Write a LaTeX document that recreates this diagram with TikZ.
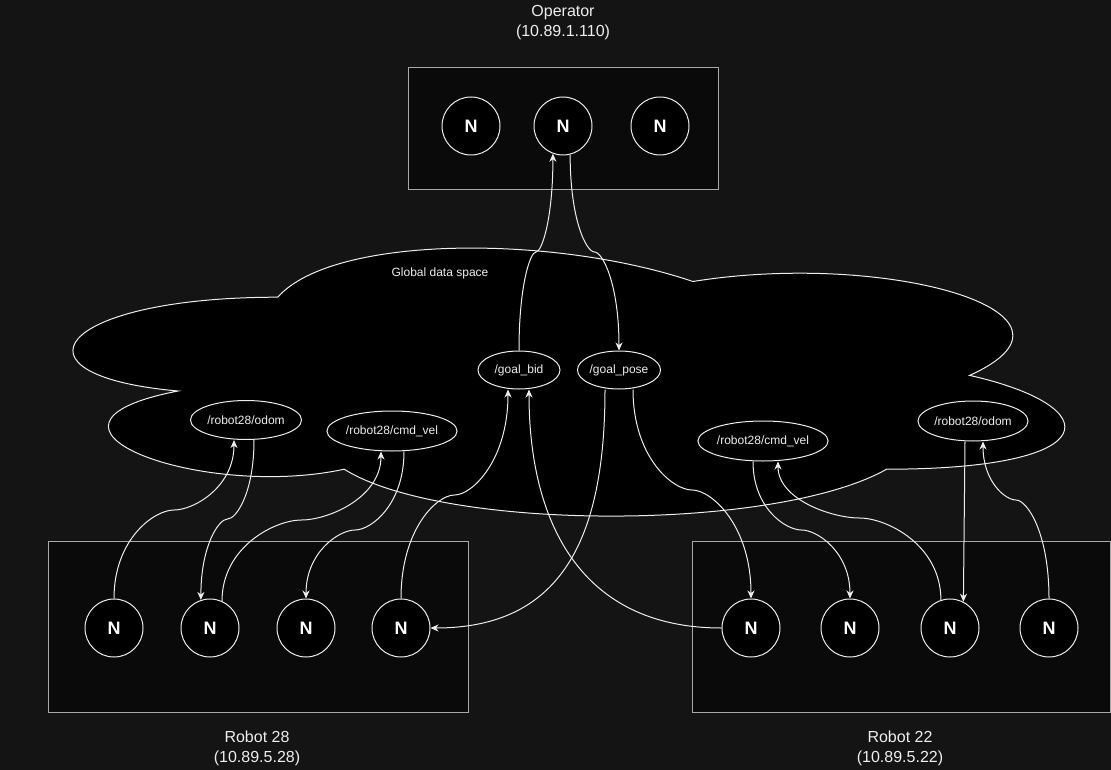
\documentclass[tikz,border=0pt]{standalone}
\usepackage{fontspec}
\setmainfont{Liberation Sans}
\usetikzlibrary{shapes.geometric,arrows.meta}

\definecolor{pagebg}{HTML}{141414}
\definecolor{boxbg}{HTML}{0A0A0A}
\definecolor{boxline}{HTML}{A8A8A8}
\definecolor{wirecol}{HTML}{EEEEEE}

\begin{document}
\begin{tikzpicture}[x=1pt,y=-1pt,
		host/.style={draw=boxline,fill=boxbg,line width=1pt},
		proc/.style={circle,draw=wirecol,fill=black,line width=1pt,minimum size=58pt,inner sep=0pt,text=white,font=\fontsize{18}{18}\selectfont\bfseries},
		topic/.style={ellipse,draw=wirecol,fill=black,line width=1pt,inner sep=0pt,text=wirecol,font=\fontsize{12}{12}\selectfont},
		hostlabel/.style={align=center,text=wirecol,font=\fontsize{16}{20}\selectfont},
		wire/.style={draw=wirecol,line width=1pt},
		pub/.style={wire,-{Stealth[length=8pt,width=7pt,inset=2.5pt]}}]
		\useasboundingbox (0,0) rectangle (1111,770);
		\fill [pagebg] (0,0) rectangle (1111,770);
		% data space
		\draw [wirecol,fill=black,line width=1pt] (277.75,297.2) .. controls (56.35,297.2) and (1,375.4) .. (178.1,391.0)
			.. controls (1,425.4) and (200.3,500.4) .. (344.2,469.2)
			.. controls (443.8,531.7) and (775.9,531.7) .. (886.6,469.2)
			.. controls (1108,469.2) and (1108,406.6) .. (969.6,375.4)
			.. controls (1108,312.8) and (886.6,250.3) .. (692.9,281.5)
			.. controls (554.5,234.6) and (333.1,234.6) .. (277.75,297.2) -- cycle;
		\node [text=wirecol,font=\fontsize{12}{12}\selectfont] (gds) at (440,273) {Global data space};
		% hosts
		\draw [host] (408,68) rectangle (718,190);
		\draw [host] (48,541) rectangle (468,712);
		\draw [host] (692,541) rectangle (1110,712);
		\node [hostlabel] (oplabel) at (563,23) {Operator\\(10.89.1.110)};
		\node [hostlabel] (r28label) at (257,748.5) {Robot 28\\(10.89.5.28)};
		\node [hostlabel] (r22label) at (900,748.5) {Robot 22\\(10.89.5.22)};
		% ros nodes
		\node [proc] (op1) at (471,126) {N};
		\node [proc] (op2) at (563,126) {N};
		\node [proc] (op3) at (660,126) {N};
		\node [proc] (r28n1) at (114,628) {N};
		\node [proc] (r28n2) at (210,628) {N};
		\node [proc] (r28n3) at (306,628) {N};
		\node [proc] (r28n4) at (401,628) {N};
		\node [proc] (r22n1) at (751,628) {N};
		\node [proc] (r22n2) at (850,628) {N};
		\node [proc] (r22n3) at (950,628) {N};
		\node [proc] (r22n4) at (1049,628) {N};
		% topics
		\node [topic,minimum width=82pt,minimum height=38pt] (goalbid) at (519,370) {/goal\_bid};
		\node [topic,minimum width=82pt,minimum height=38pt] (goalpose) at (619,370) {/goal\_pose};
		\node [topic,minimum width=111pt,minimum height=39pt] (odomA) at (246,420) {/robot28/odom};
		\node [topic,minimum width=111pt,minimum height=40pt] (cmdA) at (392,431) {/robot28/cmd\_vel};
		\node [topic,minimum width=110pt,minimum height=40pt] (cmdB) at (763,441) {/robot28/cmd\_vel};
		\node [topic,minimum width=110pt,minimum height=40pt] (odomB) at (973,421) {/robot28/odom};
		% operator
		\draw [pub] (goalbid.north) .. controls +(0,-66) and +(-5.7,0) .. (536,252) .. controls +(5.7,0) and +(0,65.8) .. (op2.-110);
		\draw [pub] (op2.-76) .. controls +(0,65.3) and +(-8.2,0) .. (594.5,252) .. controls +(8.2,0) and +(0,-66) .. (goalpose.north);
		% robot 28
		\draw [pub] (r28n1.north) .. controls +(0,-59.3) and +(-20,0) .. (174,510) .. controls +(20,0) and +(0,47) .. ([xshift=-12pt]odomA.south);
		\draw [pub] ([xshift=8pt]odomA.south) .. controls +(0,53) and +(8.8,0) .. (227.5,519) .. controls +(-8.8,0) and +(0,-54) .. (r28n2.108);
		\draw [pub] (r28n2.66) .. controls +(0,-54.3) and +(-26.5,0) .. (301.5,520) .. controls +(26.5,0) and +(0,46.3) .. ([xshift=-11pt]cmdA.south);
		\draw [pub] ([xshift=12pt]cmdA.south) .. controls +(0,53) and +(16.3,0) .. (355,530) .. controls +(-16.3,0) and +(0,-46) .. (r28n3.north);
		\draw [pub] (r28n4.north) .. controls +(0,-69.3) and +(-17.8,0) .. (454.5,495) .. controls +(17.8,0) and +(0,70.7) .. ([xshift=-11pt]goalbid.south);
		\draw [pub] ([xshift=-14pt]goalpose.south) .. controls +(0,151) and +(130,0) .. (r28n4.east);
		% robot 22
		\draw [pub] (r22n1.west) .. controls +(-142,0) and +(0,131) .. ([xshift=10pt]goalbid.south);
		\draw [pub] ([xshift=14pt]goalpose.south) .. controls +(0,67.3) and +(-19.7,0) .. (692,490) .. controls +(19.7,0) and +(0,-72.7) .. (r22n1.north);
		\draw [pub] ([xshift=-10pt]cmdB.south) .. controls +(0,46.3) and +(-16.2,0) .. (801.5,530) .. controls +(16.2,0) and +(0,-46) .. (r22n2.north);
		\draw [pub] (r22n3.108) .. controls +(0,-55) and +(27.2,0) .. (859.5,518) .. controls +(-27.2,0) and +(0,38.3) .. ([xshift=15pt]cmdB.south);
		\draw [pub] ([xshift=-8pt]odomB.south) -- (r22n3.63);
		\draw [pub] (r22n4.north) .. controls +(0,-66) and +(11,0) .. (1016,500) .. controls +(-11,0) and +(0,39.7) .. ([xshift=10pt]odomB.south);
\end{tikzpicture}
\end{document}
